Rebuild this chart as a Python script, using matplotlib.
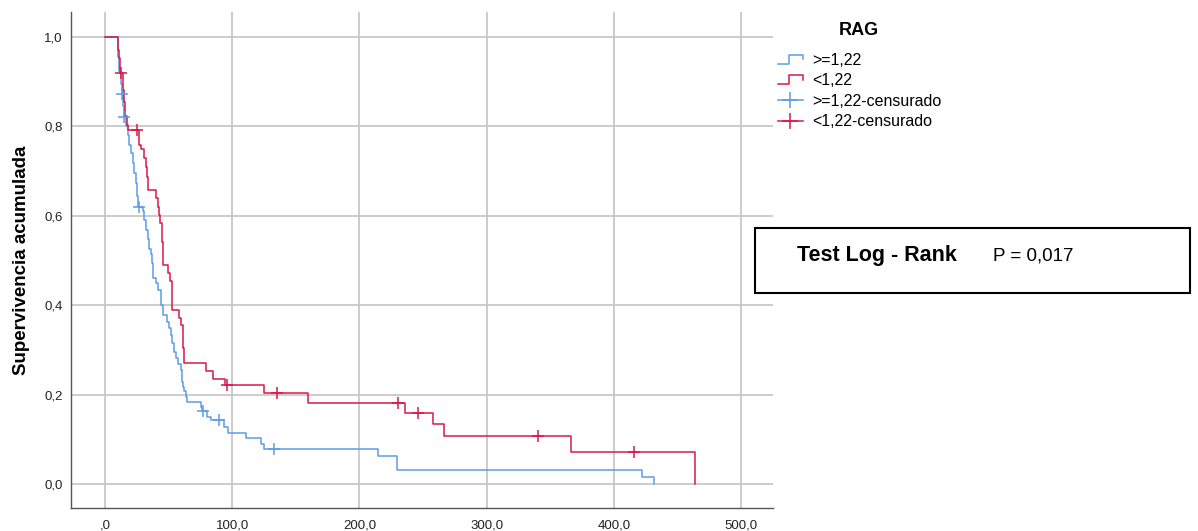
import numpy as np
import matplotlib.pyplot as plt
from matplotlib.lines import Line2D
from matplotlib.legend_handler import HandlerBase
from matplotlib.patches import Rectangle
from matplotlib.ticker import FuncFormatter

plt.rcParams['font.family'] = ['Liberation Sans', 'DejaVu Sans']

# RAG >= 1,22 : event times and survival after each event
hi_times = [10.5, 11.4, 12.6, 13.2, 14.3, 14.8, 16.9, 18.3, 18.9, 20.4, 21.8,
            23.0, 24.4, 25.4, 26.1, 29.6, 30.9, 32.2, 33.6, 34.8, 36.2, 36.7,
            38.0, 40.1, 41.4, 44.0, 45.8, 48.5, 50.3, 51.9, 52.9, 54.2, 55.8,
            57.6, 59.7, 60.3, 60.9, 61.6, 62.3, 63.7, 64.2, 75.5, 76.3, 80.0,
            83.3, 93.8, 96.5, 110.6, 122.6, 125.2, 214.4, 229.8, 422.4, 431.1]
hi_surv = [0.955, 0.925, 0.895, 0.872, 0.846, 0.820, 0.800, 0.781, 0.758,
           0.740, 0.718, 0.695, 0.673, 0.645, 0.620, 0.610, 0.590, 0.568,
           0.549, 0.526, 0.515, 0.494, 0.460, 0.449, 0.434, 0.400, 0.378,
           0.363, 0.348, 0.333, 0.315, 0.296, 0.281, 0.268, 0.255, 0.240,
           0.228, 0.218, 0.207, 0.195, 0.184, 0.172, 0.164, 0.151, 0.143,
           0.128, 0.115, 0.102, 0.089, 0.078, 0.063, 0.031, 0.016, 0.0]
hi_cens = [13.6, 15.2, 26.7, 77.0, 89.6, 132.9]

# RAG < 1,22
lo_times = [10.5, 11.2, 11.8, 12.2, 13.9, 15.2, 15.7, 17.1, 18.3, 27.0, 28.1,
            30.9, 32.0, 33.3, 34.0, 39.9, 41.4, 42.2, 43.5, 44.6, 45.8, 49.8,
            51.3, 52.9, 58.4, 59.5, 61.1, 61.6, 62.1, 79.2, 85.1, 94.3, 125.2,
            159.2, 235.8, 258.1, 266.8, 366.4, 463.8]
lo_surv = [0.971, 0.952, 0.935, 0.920, 0.881, 0.855, 0.823, 0.803, 0.792,
           0.758, 0.749, 0.729, 0.710, 0.687, 0.658, 0.640, 0.620, 0.602,
           0.583, 0.541, 0.490, 0.471, 0.454, 0.389, 0.372, 0.356, 0.339,
           0.305, 0.271, 0.253, 0.236, 0.221, 0.203, 0.182, 0.159, 0.134,
           0.107, 0.072, 0.0]
lo_cens = [12.6, 24.9, 95.6, 135.1, 230.6, 245.8, 340.0, 415.4]

labels = ['>=1,22', '<1,22', '>=1,22-censurado', '<1,22-censurado']
BLUE = '#5c9de6'
RED = '#d71a47'


def level_at(times, surv, t):
    x = np.r_[0, times]
    y = np.r_[1.0, surv]
    idx = np.searchsorted(x, t, side='right') - 1
    return y[idx]


class StepHandler(HandlerBase):
    def create_artists(self, legend, orig_handle, xdescent, ydescent,
                       width, height, fontsize, trans):
        xs = np.array([0, 0.45, 0.45, 1.0, 1.0]) * width - xdescent
        ys = np.array([0.1, 0.1, 0.9, 0.9, 0.5]) * height - ydescent
        ln = Line2D(xs, ys, color=orig_handle.get_color(), lw=1.1,
                    transform=trans)
        return [ln]


fig = plt.figure(figsize=(11.98, 5.31), dpi=100)
ax = fig.add_axes([71 / 1198, 1 - 508 / 531, 702 / 1198, 496 / 531])

ax.step(np.r_[0, hi_times], np.r_[1.0, hi_surv], where='post',
        color=BLUE, lw=1.1, zorder=3)
ax.step(np.r_[0, lo_times], np.r_[1.0, lo_surv], where='post',
        color=RED, lw=1.1, zorder=4)
ax.plot(hi_cens, level_at(hi_times, hi_surv, hi_cens), ls='none',
        marker='+', ms=9, mew=1.1, color=BLUE, zorder=5)
ax.plot(lo_cens, level_at(lo_times, lo_surv, lo_cens), ls='none',
        marker='+', ms=9, mew=1.1, color=RED, zorder=6)

ax.set_xlim(-26.7, 525)
ax.set_ylim(-0.0537, 1.056)
ax.set_xticks(np.arange(0, 501, 100))
ax.set_yticks(np.arange(0, 1.01, 0.2))
ax.xaxis.set_major_formatter(FuncFormatter(
    lambda v, _: ',0' if v == 0 else f'{v:.1f}'.replace('.', ',')))
ax.yaxis.set_major_formatter(FuncFormatter(
    lambda v, _: f'{v:.1f}'.replace('.', ',')))
ax.grid(True, color='#c4c4c4', lw=1.2)
ax.set_axisbelow(True)
ax.tick_params(length=0, labelsize=9.5, colors='#222222')
ax.tick_params(axis='x', pad=8)
ax.tick_params(axis='y', pad=6)
for s in ['top', 'right']:
    ax.spines[s].set_visible(False)
for s in ['left', 'bottom']:
    ax.spines[s].set_color('#555555')
    ax.spines[s].set_linewidth(1.0)
ax.set_ylabel('Supervivencia acumulada', fontsize=13.5, fontweight='bold',
              labelpad=10)

handles = [Line2D([], [], color=BLUE), Line2D([], [], color=RED),
           Line2D([], [], color=BLUE, lw=1.1, marker='+', ms=11, mew=1.1),
           Line2D([], [], color=RED, lw=1.1, marker='+', ms=11, mew=1.1)]
leg = fig.legend(handles, labels, loc='upper left',
                 bbox_to_anchor=(778 / 1198, 1 - 53 / 531), frameon=False,
                 fontsize=11.5, handlelength=1.56, handletextpad=0.56,
                 labelspacing=0.34, borderpad=0, borderaxespad=0,
                 handler_map={handles[0]: StepHandler(),
                              handles[1]: StepHandler()})
fig.text(859 / 1198, 1 - 31 / 531, 'RAG', fontsize=13, fontweight='bold',
         ha='center', va='center')

fig.patches.append(Rectangle((755 / 1198, 1 - 293 / 531), 435 / 1198,
                             65 / 531, transform=fig.transFigure,
                             fill=False, ec='black', lw=1.5))
fig.text(797 / 1198, 1 - 256 / 531, 'Test Log - Rank', fontsize=15.5,
         fontweight='bold', va='center', ha='left')
fig.text(993 / 1198, 1 - 256 / 531, 'P = 0,017', fontsize=13.5,
         va='center', ha='left')

fig.savefig('out.png', dpi=100)
